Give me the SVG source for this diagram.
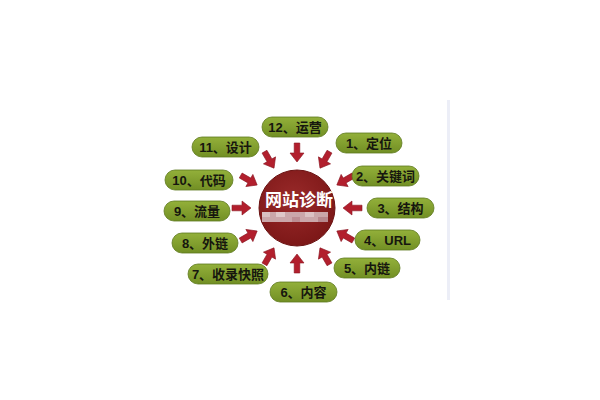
<svg xmlns="http://www.w3.org/2000/svg" width="600" height="400" viewBox="0 0 600 400">
<defs>
<linearGradient id="pg" x1="0" y1="0" x2="0" y2="1">
<stop offset="0" stop-color="#93b03a"/>
<stop offset="1" stop-color="#728f24"/>
</linearGradient>
<radialGradient id="cg" cx="0.45" cy="0.4" r="0.65">
<stop offset="0" stop-color="#9a2a2a"/>
<stop offset="1" stop-color="#7a1616"/>
</radialGradient>
<path id="arr" d="M65,-2.8 L55,-2.8 L55,-7 L46,0 L55,7 L55,2.8 L65,2.8 Z"/>
<style>
.pill{fill:url(#pg);stroke:#5e7a1e;stroke-width:0.8}
.lbl{font-family:"Liberation Sans","Noto Sans CJK SC",sans-serif;font-weight:bold;font-size:13px;fill:#16160e;text-anchor:middle;dominant-baseline:central}
.arrow{fill:#b21f2d;stroke:#8a1420;stroke-width:0.6}
</style>
</defs>
<rect width="600" height="400" fill="#ffffff"/>
<rect x="447" y="100" width="3" height="200" fill="#eceef7"/>

<g id="connectors">
<use href="#arr" class="arrow" transform="translate(297,208) rotate(-90)"/>
<use href="#arr" class="arrow" transform="translate(297,208) rotate(-60)"/>
<use href="#arr" class="arrow" transform="translate(297,208) rotate(-30)"/>
<use href="#arr" class="arrow" transform="translate(297,208) rotate(0)"/>
<use href="#arr" class="arrow" transform="translate(297,208) rotate(30)"/>
<use href="#arr" class="arrow" transform="translate(297,208) rotate(60)"/>
<use href="#arr" class="arrow" transform="translate(297,208) rotate(90)"/>
<use href="#arr" class="arrow" transform="translate(297,208) rotate(120)"/>
<use href="#arr" class="arrow" transform="translate(297,208) rotate(150)"/>
<use href="#arr" class="arrow" transform="translate(297,208) rotate(180)"/>
<use href="#arr" class="arrow" transform="translate(297,208) rotate(-150)"/>
<use href="#arr" class="arrow" transform="translate(297,208) rotate(-120)"/>
</g>

<g id="center">
<circle cx="297" cy="208" r="38" fill="url(#cg)" stroke="#6a1212" stroke-width="1"/>
<text x="299" y="198" style="font-family:'Noto Sans CJK SC',sans-serif;font-weight:bold;font-size:17px;fill:#ffffff;text-anchor:middle;dominant-baseline:central">网站诊断</text>
<g opacity="0.9">
<rect x="262" y="212" width="66" height="10" fill="#d2b6b9"/>
<rect x="262" y="212" width="8" height="5" fill="#e2d2d3"/>
<rect x="276" y="212" width="9" height="5" fill="#e8dadb"/>
<rect x="292" y="217" width="8" height="5" fill="#c29aa0"/>
<rect x="305" y="212" width="9" height="5" fill="#e4d4d5"/>
<rect x="318" y="217" width="10" height="5" fill="#bd949a"/>
</g>
</g>

<g id="n12"><rect class="pill" x="262" y="117" width="66" height="20" rx="10"/><text class="lbl" x="295" y="127">12、运营</text></g>
<g id="n1"><rect class="pill" x="336" y="133" width="66" height="20" rx="10"/><text class="lbl" x="369" y="143">1、定位</text></g>
<g id="n2"><rect class="pill" x="352" y="166" width="67" height="20" rx="10"/><text class="lbl" x="385.5" y="176">2、关键词</text></g>
<g id="n3"><rect class="pill" x="367" y="198" width="67" height="20" rx="10"/><text class="lbl" x="400.5" y="208">3、结构</text></g>
<g id="n4"><rect class="pill" x="355" y="230" width="65" height="20" rx="10"/><text class="lbl" x="387.5" y="240">4、URL</text></g>
<g id="n5"><rect class="pill" x="334" y="258" width="66" height="20" rx="10"/><text class="lbl" x="367" y="268">5、内链</text></g>
<g id="n6"><rect class="pill" x="270" y="282" width="67" height="20" rx="10"/><text class="lbl" x="303.5" y="292">6、内容</text></g>
<g id="n7"><rect class="pill" x="188" y="264" width="80" height="20" rx="10"/><text class="lbl" x="228" y="274">7、收录快照</text></g>
<g id="n8"><rect class="pill" x="172" y="233" width="66" height="20" rx="10"/><text class="lbl" x="205" y="243">8、外链</text></g>
<g id="n9"><rect class="pill" x="164" y="201" width="66" height="20" rx="10"/><text class="lbl" x="197" y="211">9、流量</text></g>
<g id="n10"><rect class="pill" x="165" y="170" width="68" height="20" rx="10"/><text class="lbl" x="199" y="180">10、代码</text></g>
<g id="n11"><rect class="pill" x="192" y="137" width="67" height="20" rx="10"/><text class="lbl" x="225.5" y="147">11、设计</text></g>
</svg>
